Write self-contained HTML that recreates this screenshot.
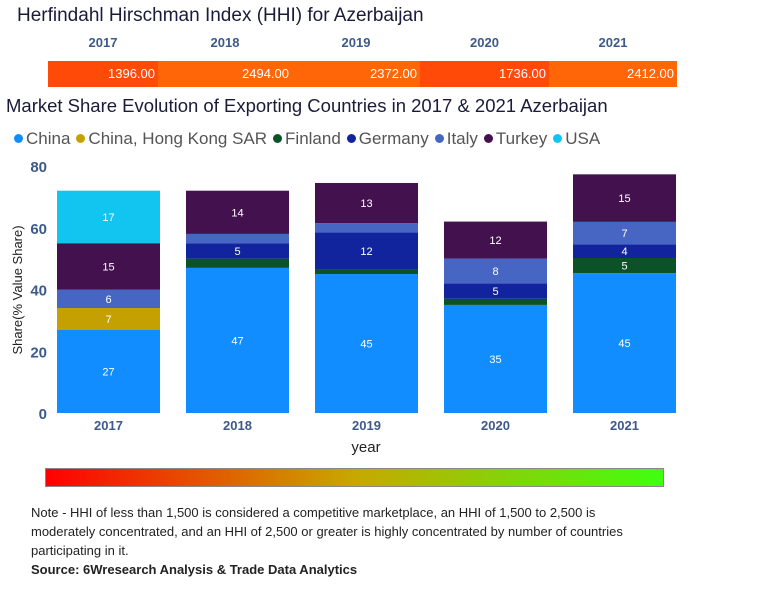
<!DOCTYPE html>
<html><head><meta charset="utf-8"><style>
body{margin:0;width:764px;height:600px;background:#fff;font-family:"Liberation Sans",sans-serif;position:relative;overflow:hidden}
.a{position:absolute;white-space:nowrap}
</style></head><body>
<div class="a" style="left:17px;top:5px;font-size:19px;color:#1a1a3a">Herfindahl Hirschman Index (HHI) for Azerbaijan</div>
<div id="hhi"></div>
<div class="a" style="left:6px;top:95px;font-size:18.5px;color:#1a1a3a">Market Share Evolution of Exporting Countries in 2017 &amp; 2021 Azerbaijan</div>
<div id="legend" class="a" style="left:14px;top:129px;font-size:17px;color:#555"></div>
<svg id="chart" width="764" height="460" style="position:absolute;left:0;top:0"></svg>
<div class="a" style="left:45px;top:468px;width:619px;height:19px;background:linear-gradient(90deg,#ff0000,#c8a800 50%,#40ff10);border:1px solid #888;box-sizing:border-box"></div>
<div class="a" style="left:31px;top:503px;font-size:13px;line-height:19px;color:#222;white-space:normal;width:625px">Note - HHI of less than 1,500 is considered a competitive marketplace, an HHI of 1,500 to 2,500 is moderately concentrated, and an HHI of 2,500 or greater is highly concentrated by number of countries participating in it.<br><b>Source: 6Wresearch Analysis &amp; Trade Data Analytics</b></div>
<script>
const years=["2017","2018","2019","2020","2021"];
const hhiValues=[1396,2494,2372,1736,2412];
const countries=["China","China, Hong Kong SAR","Finland","Germany","Italy","Turkey","USA"];
const colors=["#118DFF","#C4A000","#0B5226","#12239E","#4766C4","#44114F","#12C4F0"];
const china=[27,47,45,35,45.3];
const hongKong=[7,0,0,0,0];
const finland=[0,3,1.5,2,4.9];
const germany=[0,5,12,5,4.4];
const italy=[6,3,3,8,7.3];
const turkey=[15,14,13,12,15.4];
const usa=[17,0,0,0,0];
const yTicks=[0,20,40,60,80];
const series=[china,hongKong,finland,germany,italy,turkey,usa];

const hhi=document.getElementById('hhi');
const hx=[48,158,292,420,549,677];
years.forEach((y,i)=>{
  const l=document.createElement('div');l.className='a';
  
  
  l.style.cssText=`left:${hx[i]}px;width:${hx[i+1]-hx[i]}px;top:35px;text-align:center;font-size:13px;font-weight:bold;color:#3d5a8a`;
  l.textContent=y;hhi.appendChild(l);
  const c=document.createElement('div');c.className='a';
  
  
  const col=hhiValues[i]<2000?'#ff4a08':'#ff6608';
  c.style.cssText=`left:${hx[i]}px;width:${hx[i+1]-hx[i]-3}px;padding-right:3px;top:61px;height:26px;line-height:26px;text-align:right;font-size:13px;color:#fff;background:${col}`;
  c.textContent=hhiValues[i].toFixed(2);hhi.appendChild(c);
});
const lg=document.getElementById('legend');
countries.forEach((n,i)=>{
  const s=document.createElement('span');
  
  
  s.style.marginRight='6px';
  s.innerHTML=`<span style="display:inline-block;width:9px;height:9px;border-radius:50%;background:${colors[i]};margin-right:3px;vertical-align:1px"></span>${n}`;
  lg.appendChild(s);
});
const svg=document.getElementById('chart');const NS='http://www.w3.org/2000/svg';
const y0=413,pxPer=(413-166)/80;
const yS=v=>y0-v*pxPer;
const xS=i=>57+i*129;const bw=103;
function el(t,a,txt){const e=document.createElementNS(NS,t);for(const k in a)e.setAttribute(k,a[k]);if(txt!=null)e.textContent=txt;svg.appendChild(e);return e;}
yTicks.forEach(t=>{const e=el('text',{x:47,y:yS(t)+6,'text-anchor':'end','font-size':15,'font-weight':'bold',fill:'#3d5a8a','font-family':'Liberation Sans'},t);

});
years.forEach((yr,i)=>{
  let acc=0;
  series.forEach((s,k)=>{
    const v=s[i];if(v<=0)return;
    const r=el('rect',{x:xS(i),y:yS(acc+v),width:bw,height:v*pxPer,fill:colors[k]});
    
    
    if(v>=3.5){const t=el('text',{x:xS(i)+bw/2,y:yS(acc+v/2)+4,'text-anchor':'middle','font-size':11,fill:'#fff','font-family':'Liberation Sans'},Math.round(v));
      
      }
    acc+=v;
  });
  const t=el('text',{x:xS(i)+bw/2,y:430,'text-anchor':'middle','font-size':13,'font-weight':'bold',fill:'#3d5a8a','font-family':'Liberation Sans'},yr);
  
  
});
const xt=el('text',{x:366,y:452,'text-anchor':'middle','font-size':15,fill:'#222','font-family':'Liberation Sans'},'year');


const yt=el('text',{x:0,y:0,transform:'translate(22,290) rotate(-90)','text-anchor':'middle','font-size':13,fill:'#222','font-family':'Liberation Sans'},'Share(% Value Share)');


</script>
</body></html>
